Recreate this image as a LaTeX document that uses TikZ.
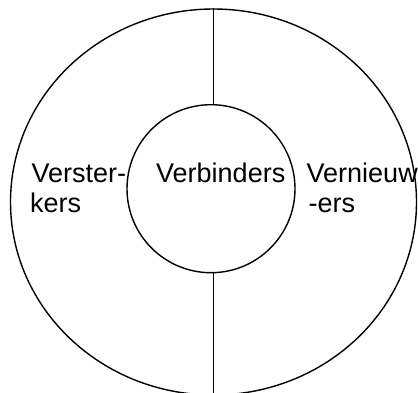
\documentclass[tikz,border=0pt]{standalone}
\usepackage{fontspec}
\setmainfont{Liberation Sans}
\usetikzlibrary{shapes.geometric}

\begin{document}
\begin{tikzpicture}[x=1pt,y=1pt,
       ring/.style={draw,line width=1.4pt,inner sep=0pt},
       lbl/.style={inner sep=0pt,anchor=base west,font=\fontsize{27}{31}\selectfont}]
       \useasboundingbox (0,0) rectangle (418,392);
       \node[ring,ellipse,minimum width=406,minimum height=386] (outer) at (213.5,190) {};
       \node[ring,circle,minimum size=168] (inner) at (211,203.3) {};
       \draw[line width=1.4pt] (outer.north) -- (outer.north |- inner.north);
       \draw[line width=1.4pt] (outer.south |- inner.south) -- (outer.south);
       \node[lbl] (verbinders) at (156,210) {Verbinders};
       \node[lbl] (versterA) at (31.5,210) {Verster-};
       \node[lbl] (versterB) at (30,180) {kers};
       \node[lbl] (vernieuwA) at (306.5,210) {Vernieuw};
       \node[lbl] (vernieuwB) at (308.5,180) {-ers};
      \end{tikzpicture}
\end{document}
